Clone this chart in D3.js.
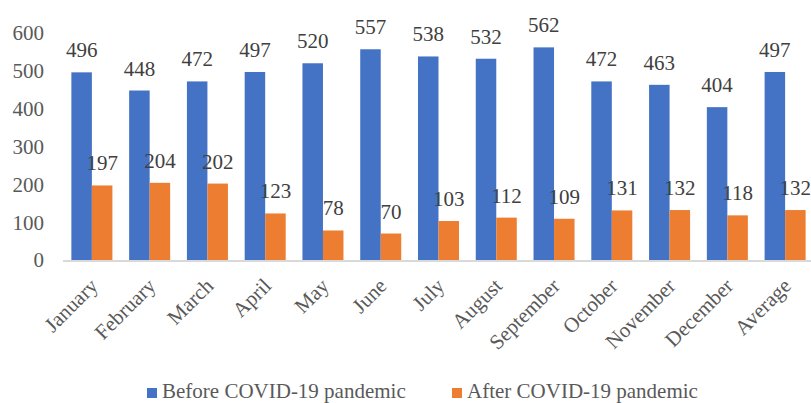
<!DOCTYPE html>
<html>
<head>
<meta charset="utf-8">
<script src="https://cdn.jsdelivr.net/npm/d3@7"></script>
<style>
  html, body { margin: 0; padding: 0; background: #fff; }
  svg { display: block; }
</style>
</head>
<body>
<svg id="chart" width="811" height="403"></svg>
<script>
const categories = ["January","February","March","April","May","June","July","August","September","October","November","December","Average"];
const beforeValues = [496,448,472,497,520,557,538,532,562,472,463,404,497];
const afterValues = [197,204,202,123,78,70,103,112,109,131,132,118,132];
const seriesNames = ["Before COVID-19 pandemic","After COVID-19 pandemic"];
const yTicks = [0,100,200,300,400,500,600];
const colors = ["#4472C4","#ED7D31"];

const FONT = "'Liberation Serif', Tinos, 'Times New Roman', serif";
const svg = d3.select("#chart").style("font-family", FONT);
const x0 = d3.scaleBand().domain(categories).range([63, 814]).paddingInner(0.29).paddingOuter(0.145);
const x1 = d3.scaleBand().domain([0,1]).range([0, x0.bandwidth()]);
const y = d3.scaleLinear().domain([0,600]).range([260, 33]);

// y tick labels
svg.append("g").selectAll("text").data(yTicks).join("text")
  .style("font-family", FONT)
  .attr("x", 44).attr("y", d => y(d)).attr("dy", "0.35em")
  .attr("text-anchor", "end").attr("font-size", 21).attr("fill", "#595959")
  .text(d => d);

const series = [beforeValues, afterValues];
const groups = svg.append("g");
series.forEach((vals, si) => {
  groups.append("g").selectAll("rect").data(vals).join("rect")
    .attr("x", (d,i) => x0(categories[i]) + x1(si))
    .attr("y", d => y(d))
    .attr("width", x1.bandwidth())
    .attr("height", d => y(0) - y(d))
    .attr("fill", colors[si]);
  groups.append("g").selectAll("text").data(vals).join("text")
    .style("font-family", FONT)
    .attr("x", (d,i) => x0(categories[i]) + x1(si) + x1.bandwidth()/2)
    .attr("y", d => y(d) - 15)
    .attr("text-anchor", "middle").attr("font-size", 21).attr("fill", "#404040")
    .text(d => d);
});

// axis line
svg.append("line").attr("x1", 63).attr("x2", 811).attr("y1", y(0) + 1).attr("y2", y(0) + 1)
  .attr("stroke", "#D9D9D9").attr("stroke-width", 2);

// x labels
svg.append("g").selectAll("text").data(categories).join("text")
  .style("font-family", FONT)
  .attr("transform", d => `translate(${x0(d) + x0.bandwidth()/2 + 2},${282}) rotate(-45)`)
  .attr("text-anchor", "end").attr("dy", "0.35em")
  .attr("font-size", 21).attr("fill", "#595959")
  .text(d => d);

// legend
const legendX = [147, 452];
seriesNames.forEach((name, i) => {
  svg.append("rect").attr("x", legendX[i]).attr("y", 388).attr("width", 10).attr("height", 10).attr("fill", colors[i]);
  svg.append("text").style("font-family", FONT).attr("x", legendX[i] + 15).attr("y", 398)
    .attr("font-size", 21).attr("fill", "#595959").text(name);
});
</script>
</body>
</html>
